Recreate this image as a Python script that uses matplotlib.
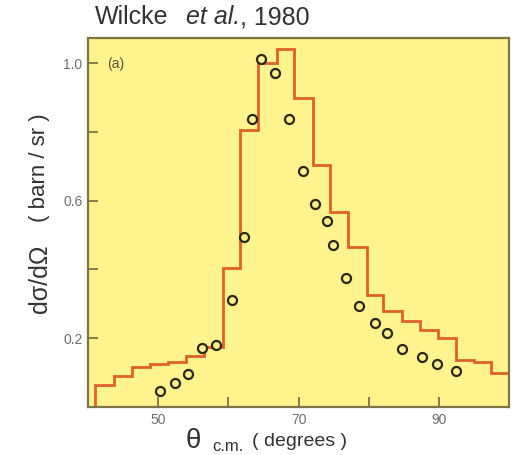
import matplotlib
matplotlib.use("Agg")
import matplotlib.pyplot as plt

plt.rcParams['font.family'] = ['Liberation Sans', 'DejaVu Sans']

# Calculated cross section histogram (bin edges in degrees, heights in barn/sr)
bin_edges = [41.0, 43.7, 46.3, 48.8, 51.4, 54.0, 56.6, 59.2, 61.6, 64.2,
             66.9, 69.3, 72.0, 74.5, 77.1, 79.7, 82.1, 84.7, 87.3, 89.9,
             92.4, 95.0, 97.5, 100.0]
bin_heights = [0.064, 0.090, 0.115, 0.125, 0.132, 0.148, 0.175, 0.403,
               0.806, 1.000, 1.040, 0.898, 0.704, 0.568, 0.466, 0.326,
               0.279, 0.251, 0.224, 0.202, 0.137, 0.132, 0.100]

# Measured points
theta_cm = [50.25, 52.4, 54.3, 56.3, 58.3, 60.5, 62.25, 63.4, 64.6, 66.7,
            68.6, 70.6, 72.3, 74.0, 74.9, 76.8, 78.6, 80.9, 82.6, 84.7,
            87.6, 89.8, 92.4]
dsigma = [0.047, 0.070, 0.097, 0.173, 0.180, 0.311, 0.495, 0.837, 1.011,
          0.971, 0.837, 0.687, 0.591, 0.540, 0.471, 0.374, 0.293, 0.243,
          0.214, 0.169, 0.145, 0.125, 0.106]

x_ticks = [50, 60, 70, 80, 90]
x_ticklabels = ['50', '', '70', '', '90']
y_ticks = [0.2, 0.4, 0.6, 0.8, 1.0]
y_ticklabels = ['0.2', '', '0.6', '', '1.0']

bg = '#FFF38E'
frame = '#7d7448'
ink = '#333333'

fig = plt.figure(figsize=(5.12, 4.55), dpi=100)
ax = fig.add_axes([88 / 512, 48 / 455, 421 / 512, 369 / 455])
ax.set_facecolor(bg)

ax.stairs(bin_heights, bin_edges, baseline=0, color='#E0602A', linewidth=2.0, zorder=2)
ax.plot(theta_cm, dsigma, 'o', markersize=6.5, markerfacecolor=bg,
        markeredgecolor='#2b2818', markeredgewidth=1.6, zorder=3)

ax.set_xlim(40, 100)
ax.set_ylim(0, 1.073)
ax.set_xticks(x_ticks)
ax.set_xticklabels(x_ticklabels)
ax.set_yticks(y_ticks)
ax.set_yticklabels(y_ticklabels)
ax.tick_params(direction='in', length=7, width=1.3, color=frame,
               labelcolor='#6e6e6e', labelsize=10, pad=4)
for s in ax.spines.values():
    s.set_color(frame)
    s.set_linewidth(1.6)
    s.set_zorder(4)

ax.text(0.045, 0.93, '(a)', transform=ax.transAxes, fontsize=10,
        color='#5a5230', va='center', ha='left')

# Title: author, italic "et al.", then year right after it
renderer = fig.canvas.get_renderer()
fig.text(95 / 512, 1 - 17 / 455, 'Wilcke', fontsize=18, color=ink, va='center')
etal = fig.text(186 / 512, 1 - 17 / 455, 'et al.', fontsize=18, color=ink,
                va='center', style='italic')
etal_end = etal.get_window_extent(renderer).x1 / fig.bbox.width
fig.text(etal_end, 1 - 17 / 455, ', 1980', fontsize=18, color=ink, va='center')

# Y axis label
fig.text(40 / 512, 1 - 313 / 455, 'd\u03c3/d\u03a9', rotation=90, fontsize=18,
         color=ink, ha='center', va='bottom')
fig.text(40 / 512, 1 - 222 / 455, '( barn / sr )', rotation=90, fontsize=16,
         color=ink, ha='center', va='bottom')

# X axis label
fig.text(186 / 512, 1 - 448 / 455, '\u03b8', fontsize=20, color=ink,
         ha='left', va='baseline')
fig.text(212 / 512, 1 - 451 / 455, 'c.m.', fontsize=12, color=ink,
         ha='left', va='baseline')
fig.text(252 / 512, 1 - 446 / 455, '( degrees )', fontsize=14, color=ink,
         ha='left', va='baseline')

fig.savefig('out.png', dpi=100)
